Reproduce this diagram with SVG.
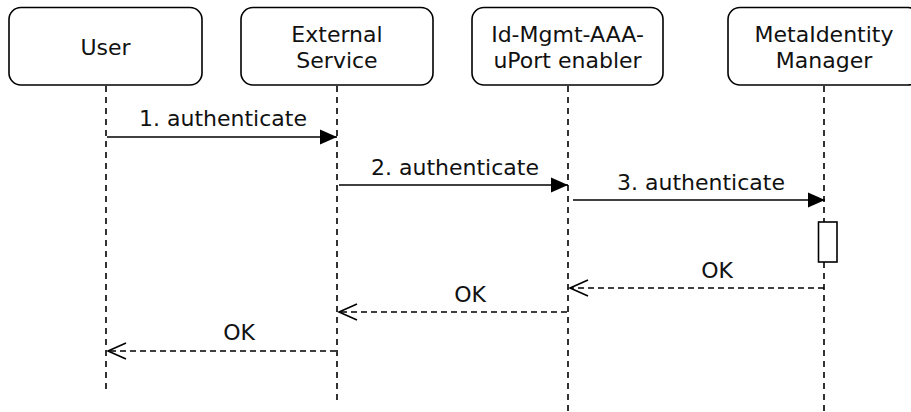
<svg xmlns="http://www.w3.org/2000/svg" width="911" height="412" viewBox="0 0 911 412">
  <style>
    .box { fill: #ffffff; stroke: #000000; stroke-width: 1.6; }
    .lbl { font-family: "DejaVu Sans", Verdana, sans-serif; font-size: 22px; fill: #111111; text-anchor: middle; }
    .life { stroke: #000000; stroke-width: 1.6; stroke-dasharray: 6 5; fill: none; }
    .call { stroke: #000000; stroke-width: 1.6; fill: none; marker-end: url(#solidHead); }
    .reply { stroke: #000000; stroke-width: 1.4; stroke-dasharray: 6 4; fill: none; marker-end: url(#openHead); }
  </style>
  <defs>
    <marker id="solidHead" markerUnits="userSpaceOnUse" markerWidth="18" markerHeight="16" refX="17" refY="8" orient="auto">
      <path d="M0,0.5 L17,8 L0,15.5 Z" fill="#000000"/>
    </marker>
    <marker id="openHead" markerUnits="userSpaceOnUse" markerWidth="22" markerHeight="22" refX="19" refY="11" orient="auto" overflow="visible">
      <path d="M1,3 L19,11 L1,19" fill="none" stroke="#000000" stroke-width="1.6"/>
    </marker>
  </defs>
  <rect width="911" height="412" fill="#ffffff"/>

  <!-- lifelines -->
  <g id="lifelines">
    <line class="life" x1="106" y1="86" x2="106" y2="391"/>
    <line class="life" x1="337" y1="86" x2="337" y2="404"/>
    <line class="life" x1="568" y1="86" x2="568" y2="412"/>
    <line class="life" x1="824" y1="86" x2="824" y2="412"/>
  </g>

  <!-- participants -->
  <g id="user">
    <rect class="box" x="9" y="7.5" width="193" height="77.5" rx="12"/>
    <text class="lbl" x="105.5" y="55">User</text>
  </g>
  <g id="external-service">
    <rect class="box" x="241" y="7.5" width="192" height="77.5" rx="12"/>
    <text class="lbl" x="337" y="42">External</text>
    <text class="lbl" x="337" y="68">Service</text>
  </g>
  <g id="id-mgmt-enabler">
    <rect class="box" x="472" y="7.5" width="191" height="77.5" rx="12"/>
    <text class="lbl" x="567.5" y="42">Id-Mgmt-AAA-</text>
    <text class="lbl" x="567.5" y="68">uPort enabler</text>
  </g>
  <g id="metaidentity-manager">
    <rect class="box" x="728" y="7.5" width="192" height="77.5" rx="12"/>
    <text class="lbl" x="824" y="42">MetaIdentity</text>
    <text class="lbl" x="824" y="68">Manager</text>
  </g>

  <!-- activation on the MetaIdentity Manager lifeline -->
  <g id="activation">
    <rect class="box" x="818.5" y="222" width="18.5" height="40"/>
  </g>

  <!-- messages -->
  <g id="connectors">
    <line class="call" x1="107" y1="137" x2="337" y2="137"/>
    <text class="lbl" x="223" y="126">1. authenticate</text>

    <line class="call" x1="339" y1="185" x2="568" y2="185"/>
    <text class="lbl" x="455" y="175">2. authenticate</text>

    <line class="call" x1="573" y1="200" x2="825" y2="200"/>
    <text class="lbl" x="701" y="190">3. authenticate</text>

    <line class="reply" x1="824" y1="288" x2="570" y2="288"/>
    <text class="lbl" x="717" y="278">OK</text>

    <line class="reply" x1="567" y1="312" x2="339" y2="312"/>
    <text class="lbl" x="470" y="302">OK</text>

    <line class="reply" x1="336" y1="351" x2="108" y2="351"/>
    <text class="lbl" x="239" y="340">OK</text>
  </g>
</svg>
